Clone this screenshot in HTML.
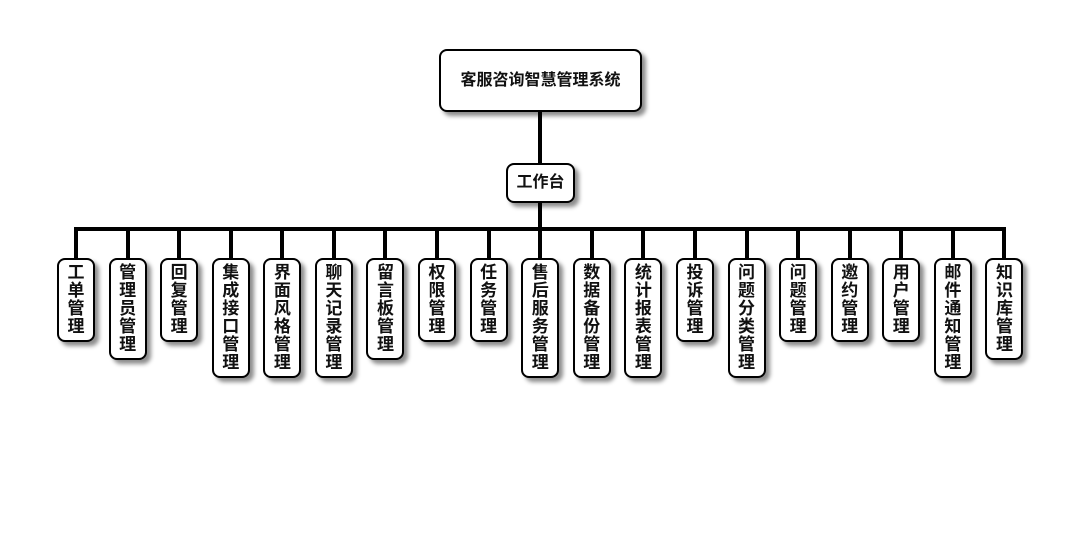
<!DOCTYPE html>
<html><head><meta charset="utf-8"><style>
body{margin:0;width:1080px;height:560px;background:#fff;position:relative;overflow:hidden;font-family:"Liberation Sans","Noto Sans CJK SC",sans-serif;}
.b{position:absolute;box-sizing:border-box;border:2px solid #000;border-radius:8px;background:#fff;box-shadow:4px 4px 4px rgba(0,0,0,0.45);font-weight:bold;color:#111;text-align:center;}
.v{width:38px;top:258px;font-size:17px;line-height:18px;padding-top:4px;}
.l{position:absolute;background:#000;}
</style></head><body>
<div class="b" style="left:439px;top:49px;width:203px;height:63px;font-size:16px;line-height:59px;">客服咨询智慧管理系统</div>
<div class="l" style="left:538px;top:111px;width:4px;height:53px"></div>
<div class="b" style="left:506px;top:163px;width:69px;height:40px;font-size:16px;line-height:36px;">工作台</div>
<div class="l" style="left:538px;top:202px;width:4px;height:27px"></div>
<div class="l" style="left:74px;top:227px;width:932px;height:4px"></div>
<div id="c"></div>
<script>
var n=["工单管理","管理员管理","回复管理","集成接口管理","界面风格管理","聊天记录管理","留言板管理","权限管理","任务管理","售后服务管理","数据备份管理","统计报表管理","投诉管理","问题分类管理","问题管理","邀约管理","用户管理","邮件通知管理","知识库管理"];
var h="";
for(var i=0;i<n.length;i++){var cx=76+i*51.58;
h+='<div class="l" style="left:'+(cx-2)+'px;top:229px;width:4px;height:30px"></div>';
h+='<div class="b v" style="left:'+(cx-19)+'px;height:'+(18*n[i].length+12)+'px">'+n[i].split("").join("<br>")+'</div>';}
document.getElementById("c").innerHTML=h;
</script>
</body></html>
